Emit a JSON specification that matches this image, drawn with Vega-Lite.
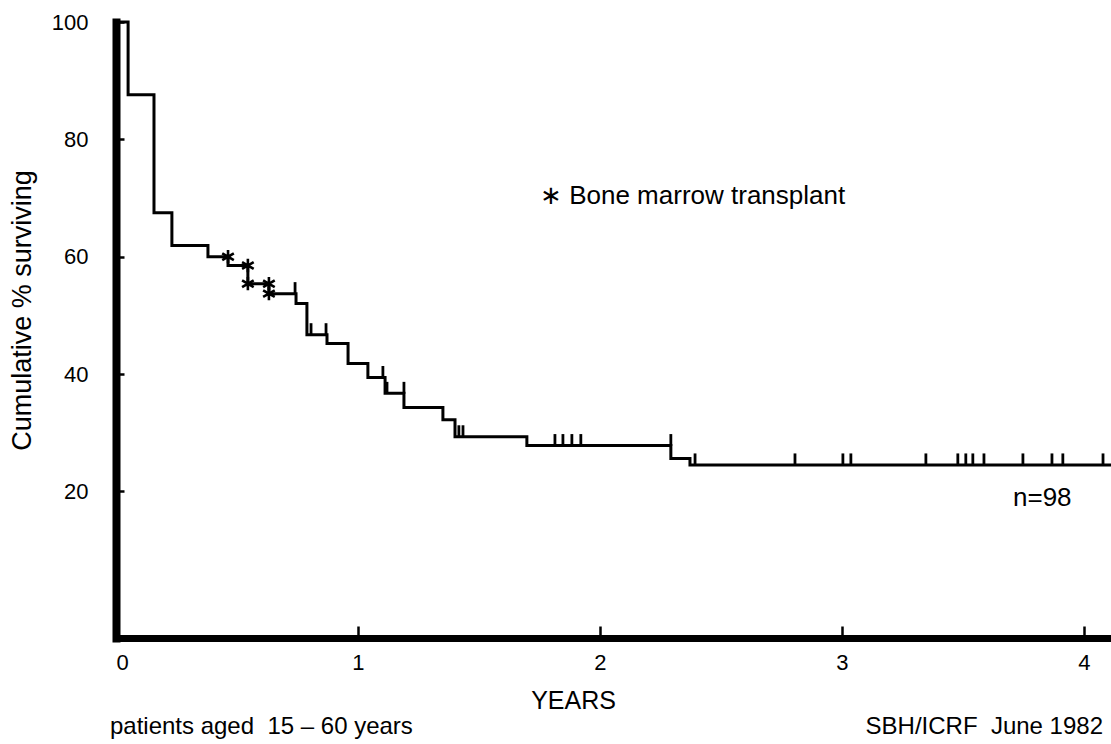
{
  "$schema": "https://vega.github.io/schema/vega-lite/v6.json",
  "width": 995,
  "height": 616,
  "autosize": {"type": "none"},
  "padding": {"left": 116, "top": 22, "right": 0, "bottom": 106},
  "background": "white",
  "config": {
    "view": {"stroke": null},
    "font": "Liberation Sans",
    "axis": {
      "grid": false,
      "domainColor": "black",
      "tickColor": "black",
      "labelColor": "black",
      "titleColor": "black",
      "labelFont": "Liberation Sans",
      "titleFont": "Liberation Sans",
      "labelFontSize": 22,
      "titleFontSize": 25,
      "titleFontWeight": "normal",
      "tickWidth": 2.5,
      "domainCap": "square"
    }
  },
  "layer": [
    {
      "data": {
        "values": [
          {"t": 0, "s": 100},
          {"t": 0.05, "s": 87.6},
          {"t": 0.157, "s": 67.5},
          {"t": 0.231, "s": 61.9},
          {"t": 0.38, "s": 60.0},
          {"t": 0.463, "s": 58.5},
          {"t": 0.545, "s": 55.4},
          {"t": 0.632, "s": 53.7},
          {"t": 0.744, "s": 52.0},
          {"t": 0.789, "s": 46.7},
          {"t": 0.872, "s": 45.2},
          {"t": 0.959, "s": 41.8},
          {"t": 1.041, "s": 39.4},
          {"t": 1.112, "s": 36.7},
          {"t": 1.19, "s": 34.3},
          {"t": 1.351, "s": 32.2},
          {"t": 1.401, "s": 29.3},
          {"t": 1.698, "s": 27.8},
          {"t": 2.293, "s": 25.6},
          {"t": 2.372, "s": 24.5},
          {"t": 4.112, "s": 24.5}
        ]
      },
      "mark": {"type": "line", "interpolate": "step-after", "color": "black", "strokeWidth": 3},
      "encoding": {
        "x": {
          "field": "t", "type": "quantitative",
          "scale": {"domain": [0, 4.112], "nice": false, "zero": false},
          "axis": {
            "values": [0, 1, 2, 3, 4], "format": "d", "title": "YEARS",
            "tickSize": -12, "labelPadding": 36, "labelBaseline": "middle",
            "labelFontSize": 22, "titleFontSize": 25,
            "domainWidth": 7, "titleX": 457, "titleY": 62, "titleBaseline": "middle", "titleAlign": "center"
          }
        },
        "y": {
          "field": "s", "type": "quantitative",
          "scale": {"domain": [-5, 100], "nice": false, "zero": false},
          "axis": {
            "values": [20, 40, 60, 80, 100], "title": "Cumulative % surviving",
            "tickSize": -8, "labelPadding": 36, "domainWidth": 8,
            "labelFontSize": 22, "titleFontSize": 27,
            "titleX": -94, "titleY": 288, "titleAngle": -90, "titleBaseline": "middle", "titleAlign": "center"
          }
        }
      }
    },
    {
      "data": {
        "values": [
          {"t": 0.74, "s": 53.7},
          {"t": 0.806, "s": 46.7},
          {"t": 0.868, "s": 46.7},
          {"t": 1.103, "s": 39.4},
          {"t": 1.12, "s": 36.7},
          {"t": 1.19, "s": 36.7},
          {"t": 1.417, "s": 29.3},
          {"t": 1.434, "s": 29.3},
          {"t": 1.814, "s": 27.8},
          {"t": 1.847, "s": 27.8},
          {"t": 1.884, "s": 27.8},
          {"t": 1.921, "s": 27.8},
          {"t": 2.293, "s": 27.8},
          {"t": 2.393, "s": 24.5},
          {"t": 2.806, "s": 24.5},
          {"t": 3.004, "s": 24.5},
          {"t": 3.037, "s": 24.5},
          {"t": 3.347, "s": 24.5},
          {"t": 3.479, "s": 24.5},
          {"t": 3.512, "s": 24.5},
          {"t": 3.541, "s": 24.5},
          {"t": 3.587, "s": 24.5},
          {"t": 3.748, "s": 24.5},
          {"t": 3.868, "s": 24.5},
          {"t": 3.913, "s": 24.5},
          {"t": 4.079, "s": 24.5}
        ]
      },
      "mark": {"type": "tick", "orient": "vertical", "color": "black", "opacity": 1, "size": 12, "thickness": 2.8, "yOffset": -5.5},
      "encoding": {
        "x": {"field": "t", "type": "quantitative"},
        "y": {"field": "s", "type": "quantitative"}
      }
    },
    {
      "data": {
        "values": [
          {"t": 0.463, "s": 60.0},
          {"t": 0.545, "s": 58.5},
          {"t": 0.545, "s": 55.4},
          {"t": 0.632, "s": 55.4},
          {"t": 0.632, "s": 53.7}
        ]
      },
      "mark": {
        "type": "point",
        "shape": "M0,-1L0,1M-0.866,-0.5L0.866,0.5M-0.866,0.5L0.866,-0.5",
        "filled": false, "stroke": "black", "strokeWidth": 2.6, "size": 180, "opacity": 1
      },
      "encoding": {
        "x": {"field": "t", "type": "quantitative"},
        "y": {"field": "s", "type": "quantitative"}
      }
    },
    {
      "data": {
        "values": [
          {"t": 1.752, "s": 70.4, "label": "∗ Bone marrow transplant"},
          {"t": 3.707, "s": 18.9, "label": "n=98"}
        ]
      },
      "mark": {"type": "text", "align": "left", "baseline": "middle", "fontSize": 26, "font": "Liberation Sans", "color": "black"},
      "encoding": {
        "x": {"field": "t", "type": "quantitative"},
        "y": {"field": "s", "type": "quantitative"},
        "text": {"field": "label"}
      }
    },
    {
      "data": {
        "values": [
          {"t": -0.025, "s": -20.1, "label": "patients aged\u00a0 15 – 60 years"}
        ]
      },
      "mark": {"type": "text", "align": "left", "baseline": "middle", "fontSize": 24, "font": "Liberation Sans", "color": "black"},
      "encoding": {
        "x": {"field": "t", "type": "quantitative"},
        "y": {"field": "s", "type": "quantitative"},
        "text": {"field": "label"}
      }
    },
    {
      "data": {
        "values": [
          {"t": 4.079, "s": -20.1, "label": "SBH/ICRF\u00a0 June 1982"}
        ]
      },
      "mark": {"type": "text", "align": "right", "baseline": "middle", "fontSize": 24, "font": "Liberation Sans", "color": "black"},
      "encoding": {
        "x": {"field": "t", "type": "quantitative"},
        "y": {"field": "s", "type": "quantitative"},
        "text": {"field": "label"}
      }
    }
  ]
}
